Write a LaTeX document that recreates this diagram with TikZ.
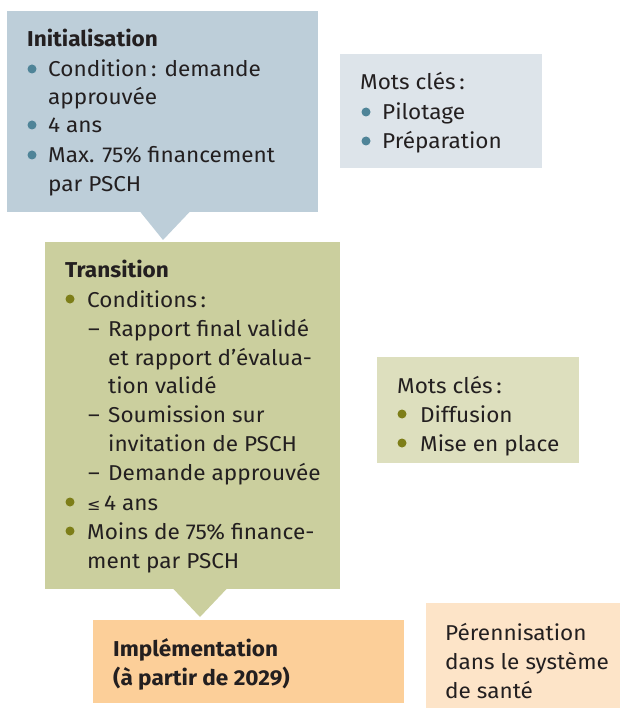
\documentclass[tikz,border=0pt]{standalone}
\usepackage{fontspec}
\setmainfont{Fira Sans}[FakeStretch=1.05]
\newfontfamily\symfont{DejaVu Sans}
\definecolor{bluebox}{HTML}{BDCED9}
\definecolor{lightblue}{HTML}{DDE4EA}
\definecolor{greenbox}{HTML}{CBCF9E}
\definecolor{lightgreen}{HTML}{DDDFBE}
\definecolor{orangebox}{HTML}{FCCF99}
\definecolor{lightorange}{HTML}{FDE4C8}
\definecolor{bulblue}{HTML}{4F8498}
\definecolor{bulgreen}{HTML}{7D7E18}
\definecolor{txtgray}{HTML}{231F20}
\begin{document}
\begin{tikzpicture}[x=1pt,y=-1pt,
  box/.style={anchor=north west, inner sep=0, outer sep=0, draw=none},
  txt/.style={anchor=base west, inner sep=0, text=txtgray, font=\fontsize{21.5}{29}\selectfont},
  ttl/.style={txt, font=\fontsize{21.5}{29}\selectfont\bfseries},
  bul/.style={circle, inner sep=0, minimum size=9pt, fill=#1}]
\useasboundingbox (0,0) rectangle (620,708);
% boxes
\node[box, fill=bluebox, minimum width=311pt, minimum height=201pt] (init) at (7,11) {};
\node[box, fill=lightblue, minimum width=202pt, minimum height=114pt] (kw1) at (340,54) {};
\node[box, fill=greenbox, minimum width=295pt, minimum height=347pt] (trans) at (45,242) {};
\node[box, fill=lightgreen, minimum width=202pt, minimum height=106pt] (kw2) at (377,357) {};
\node[box, fill=orangebox, minimum width=311pt, minimum height=83pt] (impl) at (93,620) {};
\node[box, fill=lightorange, minimum width=194pt, minimum height=105pt] (peren) at (426,603) {};
% pointers
\coordinate (p1) at (163,240);
\coordinate (p2) at (200,617);
\fill[bluebox] (140,211.5) -- (190,211.5) -- (p1) -- cycle;
\fill[greenbox] (173,588.5) -- (227,588.5) -- (p2) -- cycle;
% Initialisation
\node[ttl] (t1) at (27,47) {Initialisation};
\node[bul=bulblue] (b11) at (32,69) {};
\node[txt] (l11) at (48,77) {Condition\,: demande};
\node[txt] (l12) at (48,105) {approuvée};
\node[bul=bulblue] (b12) at (32,125) {};
\node[txt] (l13) at (48,133) {4 ans};
\node[bul=bulblue] (b13) at (32,155) {};
\node[txt] (l14) at (48,163) {Max. 75\% financement};
\node[txt] (l15) at (48,192) {par PSCH};
% Mots cles 1
\node[txt] (k10) at (360,90) {Mots clés\,:};
\node[bul=bulblue] (kb11) at (366,112) {};
\node[txt] (k11) at (382,120) {Pilotage};
\node[bul=bulblue] (kb12) at (366,141) {};
\node[txt] (k12) at (382,149) {Préparation};
% Transition
\node[ttl] (t2) at (65,277) {Transition};
\node[bul=bulgreen] (b21) at (70,299) {};
\node[txt] (l21) at (87,307) {Conditions\,:};
\node[txt] (d1) at (88,336) {–};
\node[txt] (l22) at (108,336) {Rapport final validé};
\node[txt] (l23) at (108,365) {et rapport d’évalua-};
\node[txt] (l24) at (108,393) {tion validé};
\node[txt] (d2) at (88,422) {–};
\node[txt] (l25) at (108,422) {Soumission sur};
\node[txt] (l26) at (108,451) {invitation de PSCH};
\node[txt] (d3) at (88,480) {–};
\node[txt] (l27) at (108,480) {Demande approuvée};
\node[bul=bulgreen] (b22) at (70,502) {};
\node[txt] (l28) at (87,510) {{\symfont\fontsize{16}{29}\selectfont ≤}\,4 ans};
\node[bul=bulgreen] (b23) at (70,531) {};
\node[txt] (l29) at (87,539) {Moins de 75\% finance-};
\node[txt] (l30) at (87,568) {ment par PSCH};
% Mots cles 2
\node[txt] (k20) at (397,393) {Mots clés\,:};
\node[bul=bulgreen] (kb21) at (402,414) {};
\node[txt] (k21) at (420,422) {Diffusion};
\node[bul=bulgreen] (kb22) at (402,443) {};
\node[txt] (k22) at (420,451) {Mise en place};
% Implementation
\node[ttl] (t3) at (113,656) {Implémentation};
\node[ttl] (t4) at (113,685) {(à partir de 2029)};
% Perennisation
\node[txt] (r1) at (445,640) {Pérennisation};
\node[txt] (r2) at (445,669) {dans le système};
\node[txt] (r3) at (445,698) {de santé};
\end{tikzpicture}
\end{document}
